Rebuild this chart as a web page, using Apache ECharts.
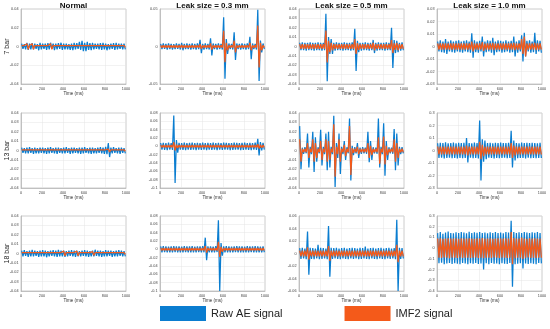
<!DOCTYPE html>
<html><head><meta charset="utf-8">
<script src="https://cdn.jsdelivr.net/npm/echarts/dist/echarts.min.js"></script>
<style>html,body{margin:0;padding:0;background:#fff}#c{width:550px;height:329px}</style>
</head><body><div id="c"></div>
<script>
// ---------- data (signal envelopes per 25 ms bin, in units of 0.001) ----------
const columnTitles = ['Normal', 'Leak size = 0.3 mm', 'Leak size = 0.5 mm', 'Leak size = 1.0 mm'];
const rowLabels = ['7 bar', '13 bar', '18 bar'];
const seriesNames = ['Raw AE signal', 'IMF2 signal'];
const timeMin = 0, timeMax = 1000, timeStep = 200;
const binMs = 25;
const unit = 0.001;
const yMax  = [0.04, 0.05, 0.04, 0.03,  0.04, 0.08, 0.04, 0.3,  0.04, 0.08, 0.06, 0.3];
const yMin  = [-0.04, -0.05, -0.04, -0.03,  -0.04, -0.1, -0.04, -0.3,  -0.04, -0.1, -0.06, -0.4];
const yStep = [0.02, 0.05, 0.01, 0.01,  0.01, 0.02, 0.01, 0.1,  0.01, 0.02, 0.02, 0.1];

// 7 bar, normal
const raw7NHi = [3,2.5,4,3,3.5,3,2.5,4,3,3, 3.5,4,3,3,3.5,4,3,3,2.5,3, 4,3.5,5,6,4,5,3.5,4,3,3, 3.5,4,3,2.5,3,3.5,4,3,3,3];
const raw7NLo = [-2.5,-3,-3.5,-3,-3,-2.5,-4,-3,-2.5,-3.5, -3,-2.5,-4,-3,-2.5,-3.5,-3,-3,-3.5,-4, -3,-2.5,-3.5,-5,-5,-3.5,-4,-3,-2.5,-3, -3.5,-3,-4,-3,-2.5,-3.5,-3,-2.5,-3,-3];
const imf7N   = [1,1,3,1,3,1,1,1,1,1, 1,3,1,1,1,1,1,1,1,1, 1,1,1,1,1,1,1,1,1,1, 1,1,1,1,1,1,1,1,1,1];
// 7 bar, 0.3 mm
const raw7AHi = [3.5,4,3.5,4,3.5,3,4,3.5,5,3.5, 4,3.5,4,3.5,4,9,3.5,4,3.5,11, 4,3.5,4,3.5,39,10,4,3.5,19,4, 3.5,4,3.5,4,13,4,3.5,49,8,4];
const raw7ALo = [-3.5,-3,-4,-3.5,-4,-3.5,-3,-4,-5,-3.5, -3.5,-4,-3.5,-4,-3.5,-9,-4,-3.5,-4,-12, -3.5,-4,-3.5,-4,-43,-10,-3.5,-4,-18,-3.5, -4,-3.5,-4,-3.5,-17,-3.5,-4,-46,-8,-3.5];
const imf7A   = [1.5,1.5,1.5,1.5,1.5,1.5,1.5,1.5,2,1.5, 1.5,1.5,1.5,1.5,1.5,3,1.5,1.5,1.5,4, 1.5,1.5,1.5,1.5,21,5,1.5,1.5,8,1.5, 1.5,1.5,1.5,1.5,5,1.5,1.5,28,5,1.5];
// 7 bar, 0.5 mm
const raw7BHi = [4,4.5,4,4,4.5,4,4,4.5,4,4, 35,10,8,4,4.5,4,4,4.5,4,4, 4.5,19,6,4,4,4.5,4,4,7,4, 4.5,4,4,4.5,4,20,7,6,4,4.5];
const raw7BLo = [-4,-4,-4.5,-4,-4,-4.5,-4,-4,-4.5,-4, -37,-8,-8,-4.5,-4,-4,-4.5,-4,-4,-4.5, -4,-26,-6,-4.5,-4,-4,-4.5,-4,-7,-4.5, -4,-4,-4.5,-4,-4,-23,-7,-6,-4.5,-4];
const imf7B   = [2.5,2.5,2.5,2.5,2.5,2.5,2.5,2.5,2.5,2.5, 17,6,4,2.5,2.5,2.5,2.5,2.5,2.5,2.5, 2.5,8,3.5,2.5,2.5,2.5,2.5,2.5,4,2.5, 2.5,2.5,2.5,2.5,2.5,7,3.5,4,2.5,2.5];
// 7 bar, 1.0 mm
const raw7CHi = [4,5,4,6,4,5,4,4.5,5,4, 4.5,5,4,10.5,5,4,4.5,8,4,5, 4.5,7,4,5,4.5,4,5,4,4.5,8, 4,5,9,11,4.5,5,4,11,5,4.5];
const raw7CLo = [-4,-4.5,-5,-6,-4,-4.5,-5,-4,-4.5,-5, -4,-4.5,-5,-9,-4.5,-5,-4,-8,-4.5,-4, -5,-7,-4.5,-4,-5,-4.5,-4,-5,-4.5,-8, -5,-4,-12,-8,-4,-5,-4.5,-6,-4,-5];
const imf7C   = [2.4,2.4,2.4,2.4,2.4,2.4,2.4,2.4,2.4,2.4, 2.4,2.4,2.4,4,2.4,2.4,2.4,3.5,2.4,2.4, 2.4,3,2.4,2.4,2.4,2.4,2.4,2.4,2.4,3, 2.4,2.4,6,8,2.4,2.4,2.4,3,2.4,2.4];
// 13 bar, normal
const raw13NHi = [3,2.5,3,3.5,2.5,3,2.5,3,3,2.5, 3,3.5,2.5,3,3,2.5,3,3.5,2.5,3, 3,2.5,3,3,3.5,2.5,3,3,2.5,3, 3.5,3,4,8,3,3.5,2.5,3,3,2.5];
const raw13NLo = [-2.5,-3,-3,-2.5,-3.5,-3,-3,-2.5,-3,-3.5, -3,-2.5,-3,-3.5,-2.5,-3,-3,-2.5,-3.5,-3, -2.5,-3,-3.5,-3,-2.5,-3,-3.5,-3,-3,-2.5, -3,-3.5,-4,-7,-3,-2.5,-3,-3.5,-2.5,-3];
const imf13N   = [0.8,0.8,0.8,0.8,0.8,0.8,0.8,0.8,0.8,0.8, 0.8,0.8,0.8,0.8,0.8,0.8,0.8,0.8,0.8,0.8, 0.8,0.8,0.8,0.8,0.8,0.8,0.8,0.8,0.8,0.8, 0.8,0.8,0.8,1.5,0.8,0.8,0.8,0.8,0.8,0.8];
// 13 bar, 0.3 mm
const raw13AHi = [8,8.5,8,9,8,74,15,8.5,8,9, 8,8.5,9,8,8.5,8,9,8,8.5,8, 9,8,8.5,8,9,8.5,8,8,9,8.5, 8,8.5,9,8,8.5,8,9,18,10,8.5];
const raw13ALo = [-8,-8.5,-9,-8,-8.5,-88,-15,-8,-8.5,-9, -8,-8.5,-8,-9,-8,-8.5,-8,-9,-8,-8.5, -8,-9,-8,-8.5,-8,-8,-9,-8.5,-8,-8, -9,-8.5,-8,-8.5,-9,-8,-8.5,-22,-10,-8];
const imf13A   = [3,3,3,3,3,10,4,3,3,3, 3,3,3,3,3,3,3,3,3,3, 3,3,3,3,3,3,3,3,3,3, 3,3,3,3,3,3,3,5,3.5,3];
// 13 bar, 0.5 mm
const raw13BHi = [26,3,3.5,18,4,20,14,3.5,22,4, 18,20,4,37,8,18,4,10,3.5,34, 5,3.5,8,3,3.5,3,20,10,3.5,3, 34,4,29,10,3.5,3,23,18,4,3.5];
const raw13BLo = [-20,-3.5,-3,-18,-4,-23,-12,-3,-16,-4, -21,-18,-4,-39,-8,-25,-4,-10,-3,-32, -5,-3,-8,-3.5,-3,-3.5,-12.5,-10,-3,-3.5, -18,-4,-27,-10,-3,-3.5,-21,-16,-4,-3];
const imf13B   = [12,1.8,1.8,8,2,12,8,1.8,10,2, 12,10,2,28,4,12,2,6,1.8,26, 2.5,1.8,4,1.8,1.8,1.8,8,5,1.8,1.8, 14,2,15,5,1.8,1.8,12,8,2,1.8];
// 13 bar, 1.0 mm
const raw13CHi = [58,62,60,65,57,60,63,58,61,60, 62,100,60,58,63,60,240,90,80,60, 62,58,61,60,63,59,60,62,157,80, 60,58,63,60,61,59,62,60,58,61];
const raw13CLo = [-60,-58,-63,-60,-57,-62,-60,-64,-59,-61, -60,-95,-58,-62,-60,-63,-240,-90,-70,-58, -60,-63,-59,-62,-60,-58,-61,-60,-135,-80, -62,-59,-60,-63,-58,-61,-60,-62,-59,-60];
const imf13C   = [32,32,32,32,32,32,32,32,32,32, 32,40,32,32,32,32,70,45,32,32, 32,32,32,32,32,32,32,32,60,40, 32,32,32,32,32,32,32,32,32,32];
// 18 bar, normal
const raw18NHi = [3,3.5,2.5,3,4,3,2.5,3,3.5,3, 2.5,3,3.5,3,4,3,3,2.5,3,3.5, 3,3,2.5,3,3.5,3,2.5,3,4,3, 3,2.5,3.5,3,3,2.5,3,3.5,3,2.5];
const raw18NLo = [-3,-2.5,-3.5,-3,-3,-2.5,-3.5,-3,-3,-4, -3,-2.5,-3,-3.5,-3,-3,-3.5,-3,-2.5,-3, -3.5,-3,-3,-2.5,-3,-3.5,-3,-3,-2.5,-3, -3.5,-3,-3,-2.5,-3.5,-3,-3,-2.5,-3,-3];
const imf18N   = [1,1,1,1,1,1,1,1,1,1, 1,1,1,1,1,1,2.5,1,1,1, 1,2.5,1,1,1,1,1,2,1,1, 1,1,1,1,1,1,1,1,1,1];
// 18 bar, 0.3 mm
const raw18AHi = [7,7.5,7,6.5,7,7.5,7,7,6.5,7.5, 7,7,7.5,6.5,7,7,7.5,28,7,7, 6.5,7.5,70,15,7,7.5,7,6.5,7,7.5, 7,7,6.5,7.5,7,7,7.5,7,6.5,7];
const raw18ALo = [-7,-6.5,-7.5,-7,-7,-6.5,-7.5,-7,-7,-6.5, -7.5,-7,-7,-7.5,-6.5,-7,-7,-26,-7.5,-7, -7,-6.5,-100,-15,-7.5,-7,-7,-7.5,-6.5,-7, -7,-7.5,-7,-7,-6.5,-7.5,-7,-7,-7.5,-7];
const imf18A   = [3,3,3,3,3,3,3,3,3,3, 3,3,3,3,3,3,3,8,3,3, 3,3,18,6,3,3,3,3,3,3, 3,3,3,3,3,3,3,3,3,3];
// 18 bar, 0.5 mm
const raw18BHi = [8.5,9,8,35,9,8.5,8,14,9,8.5, 8,44,9,8.5,9,8,8.5,9,8,8.5, 9,8.5,8,9,8.5,11,8,8.5,9,8, 8.5,9,8,8.5,9,8,8.5,54,9,8.5];
const raw18BLo = [-8.5,-8,-9,-34,-8.5,-9,-8,-9,-8.5,-8, -9,-37,-8.5,-8,-8.5,-9,-8,-8.5,-9,-8, -8.5,-8,-9,-8.5,-8,-8.5,-9,-8,-8.5,-9, -8,-8.5,-9,-8,-8.5,-8,-9,-60,-8.5,-8];
const imf18B   = [4.5,4.5,4.5,10,4.5,4.5,4.5,4.5,4.5,4.5, 4.5,12,4.5,4.5,4.5,4.5,4.5,4.5,4.5,4.5, 4.5,4.5,4.5,4.5,4.5,4.5,4.5,4.5,4.5,4.5, 4.5,4.5,4.5,4.5,4.5,4.5,4.5,14,4.5,4.5];
// 18 bar, 1.0 mm
const raw18CHi = [140,150,135,145,155,140,138,148,142,150, 145,138,152,140,147,143,150,140,145,138, 148,142,150,140,145,138,150,145,255,150, 140,148,142,150,145,140,148,143,150,140];
const raw18CLo = [-140,-135,-150,-142,-138,-148,-140,-145,-150,-138, -142,-150,-140,-145,-138,-148,-143,-200,-140,-150, -138,-145,-142,-150,-140,-145,-148,-138,-360,-150, -145,-140,-190,-142,-148,-140,-145,-150,-138,-142];
const imf18C   = [90,92,88,90,93,89,90,91,88,92, 90,89,91,90,88,92,90,95,89,90, 91,88,90,92,89,90,91,90,150,95, 90,89,100,90,88,91,90,92,89,90];

const rawHi = [raw7NHi, raw7AHi, raw7BHi, raw7CHi, raw13NHi, raw13AHi, raw13BHi, raw13CHi, raw18NHi, raw18AHi, raw18BHi, raw18CHi];
const rawLo = [raw7NLo, raw7ALo, raw7BLo, raw7CLo, raw13NLo, raw13ALo, raw13BLo, raw13CLo, raw18NLo, raw18ALo, raw18BLo, raw18CLo];
const imfAmp = [imf7N, imf7A, imf7B, imf7C, imf13N, imf13A, imf13B, imf13C, imf18N, imf18A, imf18B, imf18C];

// ---------- layout / style ----------
const colLeft = [21, 160, 299, 437];
const rowTop = [9, 113, 216];
const pw = 105, ph = 75;
const blue = '#0a7dd0', orange = '#f45a1a';
const font = '"Liberation Sans", Arial, sans-serif';

// each bin is traced once from its max to its min
function envelope(hi, lo) {
  const d = [];
  hi.forEach((h, i) => {
    d.push([i * binMs + binMs * 0.25, h * unit]);
    d.push([i * binMs + binMs * 0.75, lo[i] * unit]);
  });
  return d;
}
const fmt = v => String(+v.toFixed(4));

const grid = [], xAxis = [], yAxis = [], series = [], graphic = [];
for (let r = 0; r < 3; r++) {
  for (let c = 0; c < 4; c++) {
    const k = r * 4 + c;
    grid.push({left: colLeft[c], top: rowTop[r], width: pw, height: ph, show: true, borderColor: '#9a9a9a', borderWidth: 0.5, backgroundColor: '#fff'});
    xAxis.push({type: 'value', gridIndex: k, min: timeMin, max: timeMax, interval: timeStep,
      name: 'Time (ms)', nameLocation: 'middle', nameGap: 7,
      nameTextStyle: {fontSize: 4.5, color: '#333', fontFamily: font},
      axisLine: {show: true, onZero: false, lineStyle: {color: '#9a9a9a', width: 0.5}},
      axisTick: {show: false},
      axisLabel: {fontSize: 3.8, margin: 2.5, color: '#444', fontFamily: font, formatter: fmt},
      splitLine: {show: true, lineStyle: {color: '#e4e4e4', width: 0.5}}});
    yAxis.push({type: 'value', gridIndex: k, min: yMin[k], max: yMax[k], interval: yStep[k],
      axisLine: {show: true, lineStyle: {color: '#9a9a9a', width: 0.5}},
      axisTick: {show: false},
      axisLabel: {fontSize: 3.8, margin: 2.5, color: '#444', fontFamily: font, formatter: fmt},
      splitLine: {show: true, lineStyle: {color: '#e4e4e4', width: 0.5}}});
    series.push({name: seriesNames[0], type: 'line', xAxisIndex: k, yAxisIndex: k, showSymbol: false, symbol: 'none',
      data: envelope(rawHi[k], rawLo[k]), lineStyle: {color: blue, width: 1.25}, itemStyle: {color: blue}, silent: true});
    series.push({name: seriesNames[1], type: 'line', xAxisIndex: k, yAxisIndex: k, showSymbol: false, symbol: 'none',
      data: envelope(imfAmp[k], imfAmp[k].map(v => -v)), lineStyle: {color: orange, width: 1.25}, itemStyle: {color: orange}, silent: true});
  }
}
for (let c = 0; c < 4; c++) {
  graphic.push({type: 'text', x: colLeft[c] + pw / 2, y: 5.5, style: {text: columnTitles[c], textAlign: 'center', textVerticalAlign: 'middle', font: 'bold 8px ' + font, fill: '#111'}});
}
for (let r = 0; r < 3; r++) {
  graphic.push({type: 'text', x: 7, y: rowTop[r] + ph / 2, rotation: Math.PI / 2, style: {text: rowLabels[r], textAlign: 'center', textVerticalAlign: 'middle', font: '7px ' + font, fill: '#222'}});
}

const chart = echarts.init(document.getElementById('c'), null, {renderer: 'canvas'});
chart.setOption({
  animation: false,
  backgroundColor: '#fff',
  grid, xAxis, yAxis, series, graphic,
  legend: {data: seriesNames, left: 160, top: 306, itemWidth: 46, itemHeight: 15, itemGap: 62, icon: 'rect', padding: 0,
    textStyle: {fontSize: 11, color: '#222', fontFamily: font}, selectedMode: false}
});
</script></body></html>
